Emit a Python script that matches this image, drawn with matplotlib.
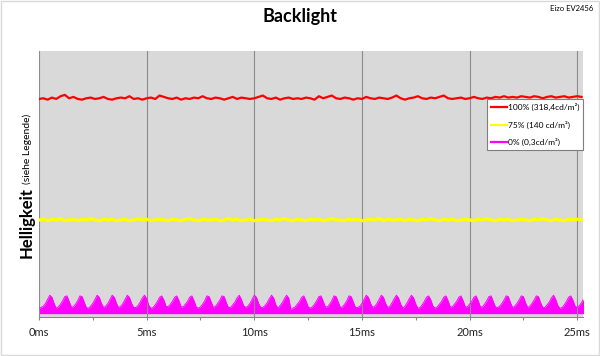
"""Backlight-Messung Eizo EV2456"""
import numpy as np
import matplotlib
matplotlib.use("Agg")
import matplotlib.pyplot as plt
from matplotlib.patches import Rectangle
from matplotlib.ticker import MultipleLocator, FuncFormatter

plt.rcParams["font.family"] = ["Lato", "DejaVu Sans"]

# Abtastung (ms)
step_ry = 0.2
step_mag = 0.1

# 100% (318,4 cd/m²)
red = [
    317, 318, 316, 319, 317, 321, 323, 318, 320, 317,
    316, 318, 319, 317, 318, 320, 317, 316, 318, 319,
    318, 321, 317, 318, 316, 318, 319, 317, 322, 320,
    318, 317, 319, 316, 318, 317, 319, 318, 321, 318,
    317, 319, 318, 316, 318, 320, 317, 319, 318, 317,
    318, 320, 322, 318, 317, 319, 316, 318, 319, 317,
    318, 317, 319, 318, 316, 321, 318, 320, 322, 318,
    317, 319, 318, 316, 318, 317, 320, 318, 317, 319,
    318, 317, 319, 322, 318, 316, 318, 319, 321, 318,
    317, 319, 318, 320, 322, 318, 317, 318, 319, 317,
    318, 320, 318, 317, 319, 318, 320, 319, 321, 319,
    320, 319, 321, 320, 319, 321, 320, 318, 320, 321,
    319, 320, 321, 319, 320, 321, 320,
]

# 75% (140 cd/m²)
yellow = [
    140, 141, 139, 141, 140, 142, 139, 140, 141, 139,
    141, 140, 142, 140, 139, 141, 140, 141, 139, 140,
    141, 139, 140, 142, 140, 141, 139, 140, 141, 140,
    139, 141, 140, 139, 141, 142, 140, 139, 141, 140,
    140, 141, 139, 140, 142, 140, 141, 139, 140, 141,
    139, 140, 141, 140, 139, 141, 140, 142, 140, 139,
    141, 140, 139, 141, 140, 141, 139, 140, 142, 140,
    140, 139, 141, 140, 141, 139, 140, 141, 140, 142,
    139, 141, 140, 140, 141, 139, 141, 140, 139, 141,
    140, 142, 140, 139, 141, 140, 141, 139, 140, 141,
    140, 139, 141, 140, 142, 140, 139, 141, 140, 141,
    139, 140, 141, 140, 139, 141, 140, 142, 140, 139,
    141, 140, 139, 141, 140, 141, 140,
]

# 0% (0,3 cd/m²) - obere Huellkurve
magenta = [
    11, 12, 14, 18, 24, 30, 27, 18, 11, 13,
    17, 22, 28, 29, 21, 13, 13, 17, 22, 29,
    28, 20, 12, 11, 14, 18, 24, 30, 27, 18,
    12, 14, 18, 24, 30, 27, 18, 12, 14, 18,
    24, 30, 27, 18, 12, 12, 15, 20, 26, 30,
    25, 15, 11, 12, 16, 21, 27, 29, 23, 14,
    13, 17, 21, 27, 29, 22, 13, 13, 17, 21,
    27, 29, 22, 13, 11, 13, 17, 22, 29, 28,
    20, 12, 14, 18, 23, 29, 28, 19, 12, 12,
    16, 20, 26, 30, 24, 15, 12, 14, 18, 24,
    30, 27, 18, 12, 12, 15, 19, 25, 30, 26,
    16, 11, 15, 19, 25, 30, 26, 9, 11, 13,
    17, 21, 27, 29, 22, 13, 11, 13, 17, 22,
    28, 29, 21, 13, 13, 17, 22, 29, 28, 20,
    12, 13, 17, 22, 29, 28, 20, 12, 12, 14,
    18, 24, 30, 27, 18, 12, 14, 18, 24, 30,
    27, 18, 12, 14, 19, 25, 30, 26, 17, 11,
    14, 19, 25, 30, 26, 17, 11, 12, 16, 21,
    27, 29, 23, 14, 11, 13, 17, 21, 27, 29,
    22, 13, 13, 17, 21, 27, 29, 22, 13, 13,
    17, 21, 27, 29, 22, 13, 13, 17, 22, 28,
    29, 21, 13, 12, 14, 18, 23, 29, 28, 19,
    12, 14, 18, 23, 29, 28, 19, 12, 14, 18,
    23, 29, 28, 19, 12, 12, 16, 20, 26, 30,
    24, 15, 11, 12, 16, 21, 27, 29, 23, 14,
    12, 15, 19, 25,
]
mag_floor = 3

labels = ["100% (318,4cd/m²)", "75% (140 cd/m²)", "0% (0,3cd/m²)"]
x_max = 25.27

t_ry = np.arange(len(red)) * step_ry
t_mag = np.arange(len(magenta)) * step_mag

fig = plt.figure(figsize=(6, 3.56), dpi=100)
ax = fig.add_axes([0.065, 0.1096, 0.9067, 0.7471])
ax.set_facecolor("#d9d9d9")

ax.plot(t_ry, red, color="#ff0000", lw=1.6, label=labels[0])
ax.plot(t_ry, yellow, color="#ffff00", lw=2.4, label=labels[1])
ax.fill_between(t_mag, mag_floor, magenta, color="#ff00ff", lw=0)
ax.plot(t_mag, magenta, color="#ff00ff", lw=0.7, label=labels[2])

ax.set_xlim(0, x_max)
ax.set_ylim(-1.8, 387.1)
ax.set_yticks([])
ax.xaxis.set_major_locator(MultipleLocator(5))
ax.xaxis.set_minor_locator(MultipleLocator(2.5))
ax.xaxis.set_major_formatter(FuncFormatter(lambda v, p: "%dms" % v))
ax.tick_params(axis="x", which="both", direction="out", length=2.5,
               width=0.8, color="#868686", pad=5, labelsize=8,
               labelcolor="#222222")
ax.grid(axis="x", which="major", color="#8c8c8c", lw=0.8)
for s in ["top", "right", "left"]:
    ax.spines[s].set_visible(False)
ax.spines["bottom"].set_color("#868686")
ax.spines["bottom"].set_linewidth(0.8)

leg = ax.legend(loc="upper right", bbox_to_anchor=(1.0, 0.8195),
                borderaxespad=0, fontsize=6, fancybox=False,
                edgecolor="#7f7f7f", framealpha=1, handlelength=1.9,
                handletextpad=0.15, labelspacing=1.15, borderpad=0.45)
leg.get_frame().set_linewidth(0.8)
for line in leg.get_lines():
    line.set_linewidth(1.6)

fig.text(0.5, 1 - 22 / 356, "Backlight", ha="center", va="baseline",
         fontsize=13, fontweight="bold")
fig.text(593 / 600, 1 - 8.5 / 356, "Eizo EV2456", ha="right", va="center",
         fontsize=5.5)
fig.text(32 / 600, 98 / 356, "Helligkeit", rotation=90,
         rotation_mode="anchor", ha="left", va="baseline",
         fontsize=12, fontweight="bold")
fig.text(29.5 / 600, 172 / 356, "(siehe Legende)", rotation=90,
         rotation_mode="anchor", ha="left", va="baseline", fontsize=7.5)

fig.patches.append(Rectangle((0.001, 0.002), 0.997, 0.995,
                             transform=fig.transFigure, fill=False,
                             ec="#d9d9d9", lw=1))

fig.savefig("out.png", dpi=100)
